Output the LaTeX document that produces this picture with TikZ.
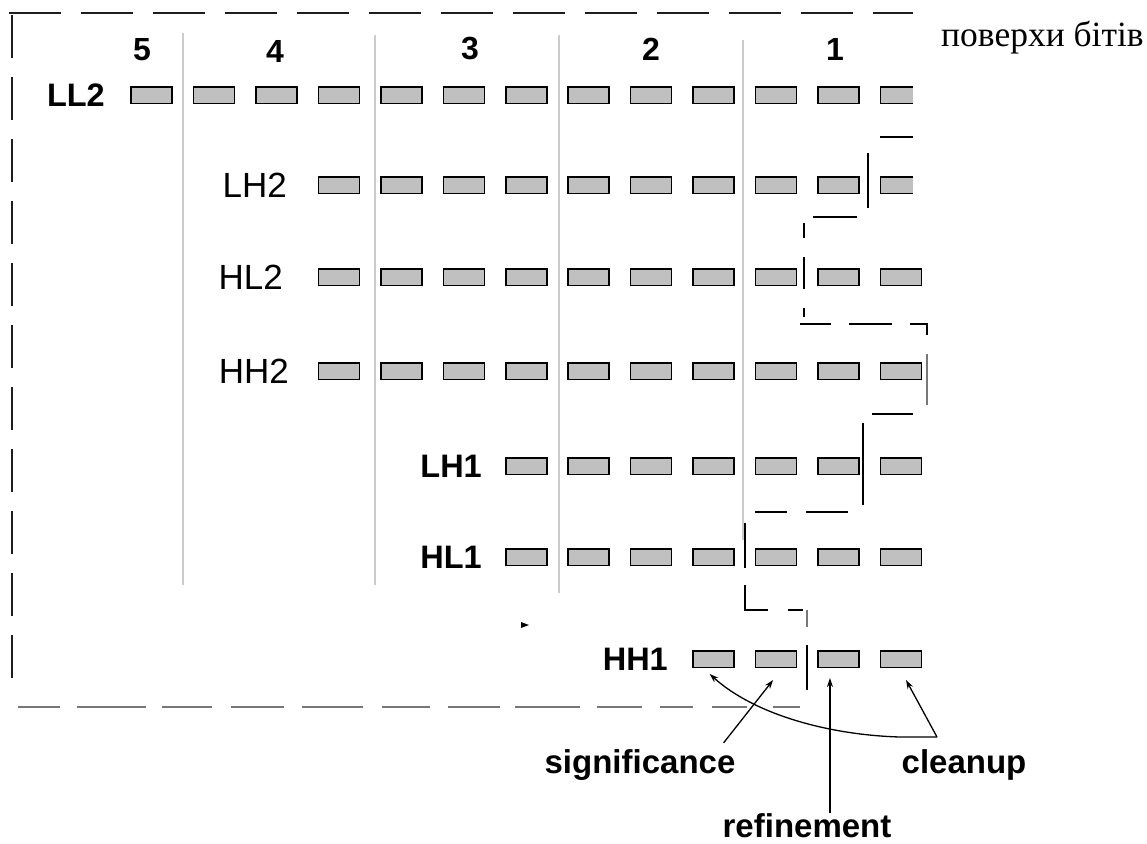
\documentclass[tikz,border=0pt]{standalone}
\usepackage{fontspec}
\setmainfont{Liberation Sans}
\newfontfamily\serifcyr{Liberation Serif}
\usetikzlibrary{arrows.meta,calc}
\definecolor{boxgrey}{HTML}{C0C0C0}
\definecolor{colgrey}{HTML}{CCCCCC}
\definecolor{frameblk}{HTML}{1E1E1E}
\definecolor{framegrey}{HTML}{777777}
\begin{document}
\begin{tikzpicture}[x=1pt,y=-1pt,
  bitbox/.style={draw=black,fill=boxgrey,line width=1.5pt,minimum width=41pt,minimum height=16.5pt,inner sep=0pt},
  labreg/.style={anchor=east,inner sep=0pt,font=\fontsize{35}{40}\selectfont},
  labbold/.style={anchor=east,inner sep=0pt,font=\bfseries\fontsize{32.5}{38}\selectfont},
  colnum/.style={inner sep=0pt,font=\bfseries\fontsize{32}{36}\selectfont},
  passlab/.style={anchor=base,inner sep=0pt,font=\bfseries\fontsize{33}{38}\selectfont},
  colline/.style={draw=colgrey,line width=1.6pt},
  frame/.style={draw=frameblk,line width=1.8pt},
  stair/.style={draw=black,line width=1.8pt},
  stairgrey/.style={draw=framegrey,line width=1.6pt},
  bottomdash/.style={draw=framegrey,line width=1.8pt},
  arr/.style={draw=black,line width=1.3pt,-{Stealth[length=9pt,width=6pt]}}
]
\useasboundingbox (0,0) rectangle (1147,843);
\fill[white] (0,0) rectangle (1147,843);

% column separators
\draw[colline] (183,33) -- (183,585);
\draw[colline] (375,35) -- (375,585);
\draw[colline] (559,35) -- (559,593);
\draw[colline] (743,40) -- (743,540);

% column numbers
\node[colnum] (n5) at (142,50) {5};
\node[colnum] (n4) at (275,51) {4};
\node[colnum] (n3) at (470,49) {3};
\node[colnum] (n2) at (651,49) {2};
\node[colnum] (n1) at (835,49) {1};

% bit boxes
\foreach \r/\y/\s in {LL2/95/1, LH2/185/4, HL2/277/4, HH2/371/4, LH1/466/7, HL1/557/7, HH1/659/10}{
  \foreach \c in {\s,...,13}{
    \node[bitbox] (b-\r-\c) at ({151.5+62.46*(\c-1)},\y) {};
  }
}

% subband labels
\node[labbold] (lLL2) at (105,95) {LL2};
\node[labreg]  (lLH2) at (287,185) {LH2};
\node[labreg]  (lHL2) at (283,277) {HL2};
\node[labreg]  (lHH2) at (289,371) {HH2};
\node[labbold] (lLH1) at (482,466) {LH1};
\node[labbold] (lHL1) at (482,557) {HL1};
\node[labbold] (lHH1) at (668,659) {HH1};

% dashed outer frame
\draw[frame,dash pattern=on 52pt off 20pt] (9,13) -- (925,13);
\draw[frame,dash pattern=on 43pt off 19pt] (12,15) -- (12,695);
\draw[bottomdash] (18,707)--(60,707) (77,707)--(146,707) (162,707)--(212,707)
  (231,707)--(284,707) (302,707)--(363,707) (382,707)--(430,707)
  (448,707)--(500,707) (515,707)--(580,707) (597,707)--(642,707)
  (660,707)--(693,707) (712,707)--(747,707) (773,707)--(800,707);

% staircase boundary
\draw[stair] (880,137)--(925,137) (868,153)--(868,208) (813,217)--(857,217)
  (804,223)--(804,238) (804,257)--(804,289) (804,308)--(804,317)
  (800,324)--(831,324) (849,324)--(892,324) (910,324)--(927,324)--(927,335)
  (872,414)--(913,414) (863,423)--(863,505)
  (755,512)--(787,512) (806,512)--(848,512)
  (745,523)--(745,568) (745,585)--(745,610)--(768,610) (788,610)--(803,610)
  (807,645)--(807,690);
\draw[stairgrey] (927,354)--(927,405) (807,610)--(807,627);

% small mark
\fill[black] (521,622) -- (529,625) -- (521,628) -- cycle;

% white cut at top right
\fill[white] (913,0) rectangle (1147,215);
\node[anchor=base west,inner sep=0pt,font=\serifcyr\fontsize{35.5}{40}\selectfont] (title) at (941,47) {поверхи бітів};

% pass labels
\node[passlab] (sig) at (640,773) {significance};
\node[passlab] (ref) at (807,837) {refinement};
\node[passlab] (clean) at (964,773) {cleanup};

% arrows
\coordinate (cv) at (937,737);
\coordinate (rtip) at ($(b-HH1-12.south)+(-8.6,10)$);
\draw[arr] ($(sig.north east)+(-12,-6)$) -- ($(b-HH1-11.south)+(-3,12)$);
\draw[arr] (cv) -- (900,737) .. controls (830,735) and (755,715) .. ($(b-HH1-10.south)+(-4,6)$);
\draw[arr] (cv) -- ($(b-HH1-13.south)+(5,12)$);
\draw[arr] (ref.north -| rtip) -- (rtip);
\end{tikzpicture}
\end{document}
